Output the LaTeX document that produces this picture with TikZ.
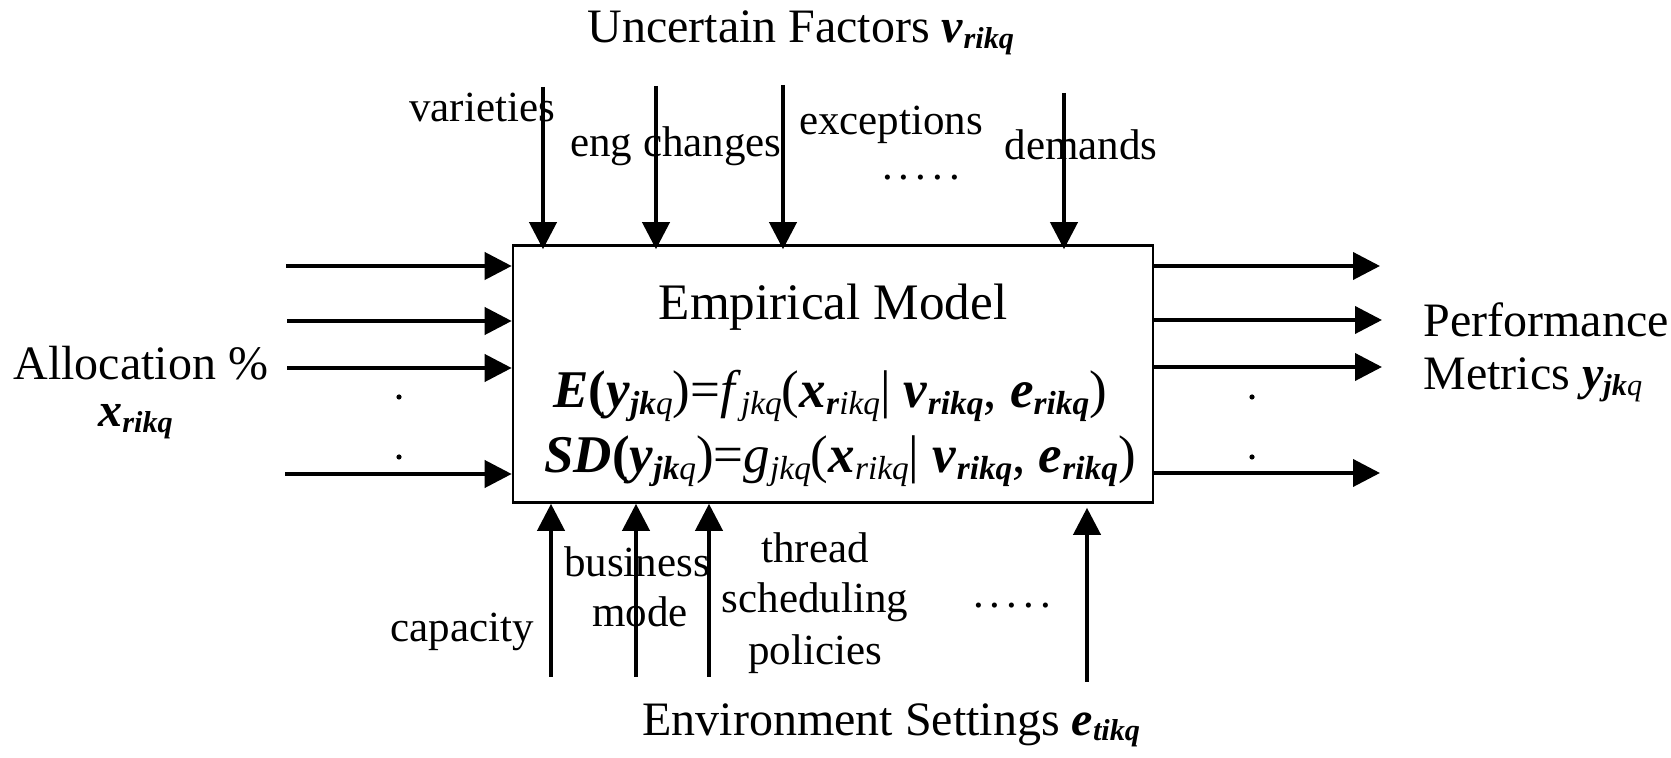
\documentclass[tikz,border=0pt]{standalone}
\usepackage{graphicx}
\usepackage{fontspec}
\setmainfont{Liberation Serif}
\usetikzlibrary{arrows.meta}
\newcommand\bi[1]{\textbf{\textit{#1}}}
\newcommand\sbs[1]{\raisebox{-0.12em}{\scalebox{0.63}{#1}}}
\newcommand\fivedots{.\kern3pt.\kern3pt.\kern3pt.\kern3pt.}
\tikzset{
  arr/.style={line width=2pt, -{Triangle[length=13.5pt,width=13.5pt]}},
  big/.style={font=\fontsize{24}{28}\selectfont, inner sep=0pt},
  ttl/.style={font=\fontsize{25.6}{30}\selectfont, inner sep=0pt},
  small/.style={font=\fontsize{21.5}{25}\selectfont, inner sep=0pt},
  frm/.style={font=\fontsize{26.5}{30}\selectfont, inner sep=0pt},
  dotmark/.style={circle, fill=black, inner sep=0pt, minimum size=2.6pt},
  modelbox/.style={draw, line width=1.3pt, minimum width=320pt, minimum height=128.5pt, inner sep=0pt}
}
\begin{document}
\begin{tikzpicture}[x=0.5pt,y=-0.5pt]
\useasboundingbox (0,0) rectangle (1671,758);
\node[modelbox] (box) at (833,374) {};
\node[ttl, anchor=base] (title) at (833,320) {Empirical Model};
\node[frm, anchor=base west] (feq) at (553,408) {\bi{E}\textbf{(}\bi{y}\sbs{\bi{jk}\textit{q}})=\textit{f}\sbs{\textit{jkq}}(\bi{x}\sbs{\bi{r}\textit{ikq}}| \bi{v}\sbs{\bi{rikq}}, \bi{e}\sbs{\bi{rikq}})};
\node[frm, anchor=base west] (geq) at (544,473) {\bi{SD}\textbf{(}\bi{y}\sbs{\bi{jk}\textit{q}})=\textit{g}\sbs{\textit{jkq}}(\bi{x}\sbs{\textit{rikq}}| \bi{v}\sbs{\bi{rikq}}, \bi{e}\sbs{\bi{rikq}})};

% top
\node[big, anchor=base west] (unc) at (587,43) {Uncertain Factors \bi{v}\sbs{\bi{rikq}}};
\node[small, anchor=base] (var) at (482,122) {varieties};
\node[small, anchor=base] (eng) at (676,157) {eng changes};
\node[small, anchor=base] (exc) at (891,135) {exceptions};
\node[small, anchor=base] (dem) at (1081,160) {demands};
\node[small, anchor=base] (tdots) at (921,180) {\fivedots};
\coordinate (t1) at (543,87);
\coordinate (t2) at (656,86);
\coordinate (t3) at (783,85);
\coordinate (t4) at (1064,93);
\foreach \c in {t1,t2,t3,t4}{\draw[arr, shorten >=-2.5pt] (\c) -- (\c |- box.north);}

% left
\node[big, anchor=base west] (alloc) at (13,380) {Allocation \%};
\node[big, anchor=base west] (xv) at (98,427) {\bi{x}\sbs{\bi{rikq}}};
\coordinate (l1) at (286,266);
\coordinate (l2) at (287,321);
\coordinate (l3) at (287,368);
\coordinate (l4) at (285,474);
\foreach \c in {l1,l2,l3,l4}{\draw[arr] (\c) -- (\c -| box.west);}
\node[dotmark] (ld1) at (399,397) {};
\node[dotmark] (ld2) at (399,457) {};

% right
\node[big, anchor=base west] (perf) at (1423,337) {Performance};
\node[big, anchor=base west] (metr) at (1423,390) {Metrics \bi{y}\sbs{\bi{jk}\textit{q}}};
\coordinate (r1) at (1380,266);
\coordinate (r2) at (1382,320);
\coordinate (r3) at (1382,367);
\coordinate (r4) at (1380,473);
\foreach \c in {r1,r2,r3,r4}{\draw[arr] (\c -| box.east) -- (\c);}
\node[dotmark] (rd1) at (1252,397) {};
\node[dotmark] (rd2) at (1252,457) {};

% bottom
\coordinate (b1) at (551,677);
\coordinate (b2) at (636,677);
\coordinate (b3) at (709,677);
\coordinate (b4) at (1087,682);
\foreach \c in {b1,b2,b3}{\draw[arr] (\c) -- (\c |- box.south);}
\draw[arr, shorten >=2pt] (b4) -- (b4 |- box.south);
\node[small, anchor=base] (cap) at (462,642) {capacity};
\node[small, anchor=base] (bus) at (637,577) {business};
\node[small, anchor=base] (mode) at (640,627) {mode};
\node[small, anchor=base] (thr) at (815,563) {thread};
\node[small, anchor=base] (sch) at (815,613) {scheduling};
\node[small, anchor=base] (pol) at (815,665) {policies};
\node[small, anchor=base] (bdots) at (1012,608) {\fivedots};
\node[big, anchor=base west] (env) at (642,735) {Environment Settings \bi{e}\sbs{\bi{tikq}}};
\end{tikzpicture}
\end{document}
